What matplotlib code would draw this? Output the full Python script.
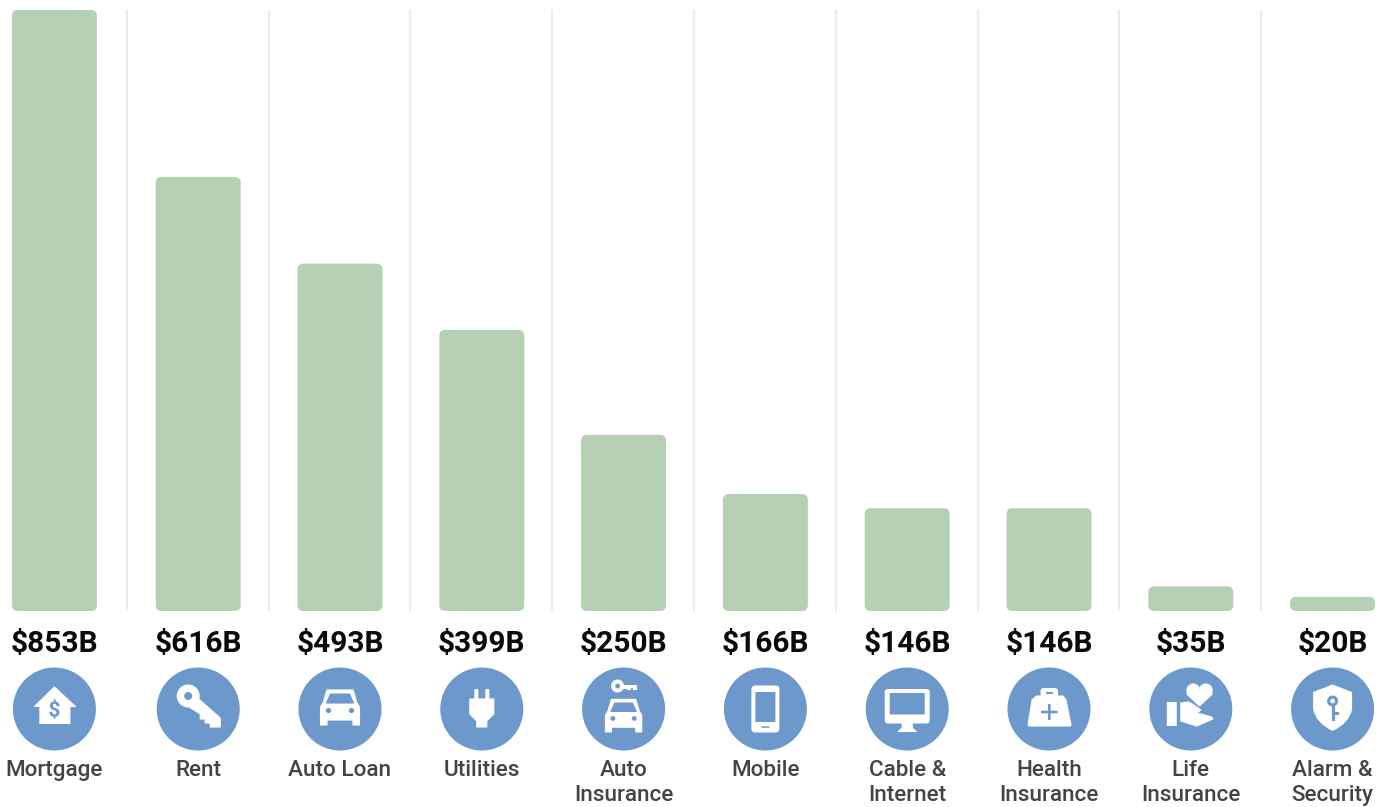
import matplotlib
matplotlib.use('Agg')
import matplotlib.pyplot as plt
from matplotlib.patches import Circle, Polygon, FancyBboxPatch, PathPatch
from matplotlib.path import Path
from matplotlib.textpath import TextPath
from matplotlib.font_manager import FontProperties
from matplotlib.transforms import Affine2D
import numpy as np

categories = ['Mortgage', 'Rent', 'Auto Loan', 'Utilities', 'Auto\nInsurance',
              'Mobile', 'Cable &\nInternet', 'Health\nInsurance',
              'Life\nInsurance', 'Alarm &\nSecurity']
values = [853, 616, 493, 399, 250, 166, 146, 146, 35, 20]
value_labels = ['$853B', '$616B', '$493B', '$399B', '$250B',
                '$166B', '$146B', '$146B', '$35B', '$20B']

GREEN = '#b5d0b3'
BLUE = '#6c98cb'
WHITE = '#ffffff'
GRID = '#e6e6e6'

W, H = 1388, 807
X0, XSTEP = 56.4, 141.8      # pixel of first category, pixels per category
Y0, YSTEP = 611.0, 0.7046    # pixel of zero, pixels per $B

fig = plt.figure(figsize=(W / 100, H / 100), dpi=100, facecolor='white')
ax = fig.add_axes([0, 0, 1, 1])
ax.set_xlim(-X0 / XSTEP, (W - X0) / XSTEP)
ax.set_ylim((Y0 - H) / YSTEP, Y0 / YSTEP)
ax.axis('off')

def ypx(p):
    return (Y0 - p) / YSTEP

x = np.arange(len(values), dtype=float)
x[0] -= 0.014  # first column sits a bit left in the original

# separators
for i in range(len(values) - 1):
    ax.plot([i + 0.497, i + 0.497], [0, max(values)], color=GRID, lw=1.1,
            solid_capstyle='butt', zorder=1)

# bars, rounded
bar_w = 85 / XSTEP
r = 6 / XSTEP
for xi, v in zip(x, values):
    ax.add_patch(FancyBboxPatch((xi - bar_w / 2, 0), bar_w, v,
                                boxstyle='round,pad=0,rounding_size=%f' % r,
                                mutation_aspect=(1 / YSTEP) / (1 / XSTEP),
                                fc=GREEN, ec='none', zorder=2))

# value labels and names
for xi, lab, name in zip(x, value_labels, categories):
    ax.text(xi, ypx(652), lab, family='Roboto', weight='bold', fontsize=21.5,
            color='#0a0a0a', ha='center', va='baseline')
    for j, line in enumerate(name.split('\n')):
        ax.text(xi, ypx(776 + 25 * j), line, family='Roboto', weight='medium',
                fontsize=16.2, color='#444444', ha='center', va='baseline')


# icons, drawn in local pixels around the circle centre (y pointing down)
def poly(t, pts, c=WHITE):
    ax.add_patch(Polygon(pts, closed=True, fc=c, ec=c, lw=0.8, joinstyle='round',
                         transform=t, zorder=4))

def circ(t, xy, rad, c=WHITE):
    ax.add_patch(Circle(xy, rad, fc=c, ec='none', transform=t, zorder=4))

def rrect(t, x1, y1, x2, y2, rad, c=WHITE):
    ax.add_patch(FancyBboxPatch((x1, y1), x2 - x1, y2 - y1,
                                boxstyle='round,pad=0,rounding_size=%f' % rad,
                                fc=c, ec='none', transform=t, zorder=4))

def car(t, dx, dy, s):
    pts = np.array([(-13, -19), (13, -19), (17, -6), (19.5, -2), (19.5, 16), (13, 16),
                    (13, 11), (-13, 11), (-13, 16), (-19.5, 16), (-19.5, -2), (-17, -6)])
    glass = np.array([(-13.5, -6), (13.5, -6), (9.5, -15), (-9.5, -15)])
    off = np.array([dx, dy])
    poly(t, pts * s + off)
    poly(t, glass * s + off, BLUE)
    circ(t, np.array([-11.5, 1.5]) * s + off, 2.6 * s, BLUE)
    circ(t, np.array([11.5, 1.5]) * s + off, 2.6 * s, BLUE)

def icon_house(t):
    poly(t, [(0, -22), (-20, -2.5), (-14.5, -2.5), (-14.5, 14.5),
             (15.5, 14.5), (15.5, -2.5), (21, -2.5)])
    fp = FontProperties(family='Roboto', weight='bold')
    p = TextPath((0, 0), '$', size=21, prop=fp)
    box = p.get_extents()
    p = p.transformed(Affine2D().translate(-box.x0 - box.width / 2, -box.y0 - box.height / 2)
                      .scale(1, -1))
    ax.add_patch(PathPatch(p, fc=BLUE, ec='none', transform=t, zorder=5))

def icon_key(t):
    circ(t, (-10, -13), 11.5)
    circ(t, (-10, -13), 4, BLUE)
    poly(t, [(-4, -14), (22, 9), (22, 18), (12, 18), (12, 14), (7, 14), (7, 10),
             (2, 10), (2, 5), (-9, -2)])

def icon_car(t):
    car(t, 0, 0, 1)

def icon_plug(t):
    rrect(t, -7.5, -20, -3.5, -9, 1)
    rrect(t, 3.5, -20, 7.5, -9, 1)
    poly(t, [(-12, -10), (12, -10), (12, 5), (5, 12), (5, 18),
             (-5, 18), (-5, 12), (-12, 5)])

def icon_auto_key(t):
    car(t, 0, 8, 0.93)
    circ(t, (-6, -23), 6.5)
    circ(t, (-6, -23), 2.4, BLUE)
    poly(t, [(-2, -24.5), (12, -24.5), (12, -20), (9, -20), (9, -22), (6, -22),
             (6, -20), (3, -20), (3, -21.5), (-2, -21.5)])

def icon_phone(t):
    rrect(t, -14, -23.5, 14, 23.5, 4)
    rrect(t, -10, -17, 10, 13, 0.3, BLUE)
    rrect(t, -4, 17.3, 4, 18.8, 0.3, BLUE)

def icon_monitor(t):
    poly(t, [(-5, 13), (5, 13), (5, 19), (9, 22.5), (-9, 22.5), (-5, 19)])
    rrect(t, -22.5, -20, 22.5, 14.5, 3)
    rrect(t, -17.5, -16, 17.5, 5.5, 0.3, BLUE)

def icon_bag(t):
    rrect(t, -8.5, -21, 9, -10, 3)
    rrect(t, -3, -17, 4, -15, 0.5, BLUE)
    poly(t, [(-12.5, -13), (14, -13), (17, -9), (22, 16), (21, 17), (-20, 17),
             (-21, 16), (-17, -9)])
    rrect(t, -8, 1.7, 8.5, 4.3, 0.2, BLUE)
    rrect(t, -1, -5, 1.6, 11, 0.2, BLUE)

def icon_hand(t):
    rrect(t, -24, -7, -14, 17, 0.5)
    poly(t, [(-10, -6), (-2, -7), (3, -4), (10, 1), (6, 4), (14, 6), (21, 8), (22, 10),
             (6, 17), (-10, 12)])
    circ(t, (2.5, -18.5), 7)
    circ(t, (15, -18.5), 7)
    poly(t, [(-4, -15), (21.5, -15), (8.7, -3)])

def icon_shield(t):
    verts = [(0, -24.5), (19.5, -17), (19.5, 0), (17, 14), (0, 22),
             (-17, 14), (-19.5, 0), (-19.5, -17), (0, -24.5)]
    codes = [Path.MOVETO, Path.LINETO, Path.LINETO, Path.CURVE3, Path.CURVE3,
             Path.CURVE3, Path.CURVE3, Path.LINETO, Path.LINETO]
    ax.add_patch(PathPatch(Path(verts, codes), fc=WHITE, ec='none', transform=t, zorder=4))
    circ(t, (0, -8), 5.5, BLUE)
    circ(t, (0, -8), 2.3, WHITE)
    poly(t, [(-0.9, -3), (0.9, -3), (0.9, 3), (5, 3), (5, 5), (0.9, 5), (0.9, 11), (-0.9, 11)], BLUE)


icons = [icon_house, icon_key, icon_car, icon_plug, icon_auto_key,
         icon_phone, icon_monitor, icon_bag, icon_hand, icon_shield]

for xi, draw_icon in zip(x, icons):
    local = Affine2D().scale(1 / XSTEP, -1 / YSTEP).translate(xi, ypx(709)) + ax.transData
    ax.add_patch(Circle((0, 0), 41.5, fc=BLUE, ec='none', transform=local, zorder=3))
    draw_icon(local)

fig.savefig('out.png', dpi=100, facecolor='white')
